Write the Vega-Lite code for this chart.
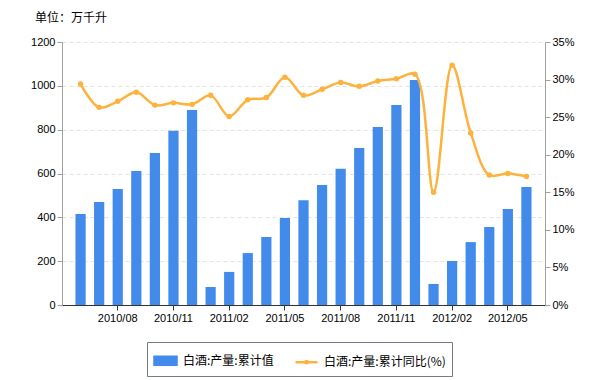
{
  "$schema": "https://vega.github.io/schema/vega-lite/v6.json",
  "width": 483,
  "height": 263,
  "autosize": {"type": "none"},
  "padding": {"left": 62, "top": 42, "right": 55, "bottom": 75},
  "background": "white",
  "title": {
    "text": "单位：万千升",
    "anchor": "start",
    "frame": "group",
    "dx": -27,
    "offset": 11,
    "font": "Noto Sans CJK SC",
    "fontSize": 12,
    "fontWeight": "normal",
    "color": "#000000"
  },
  "config": {
    "view": {"stroke": null},
    "axis": {"labelFont": "Liberation Sans", "labelFontSize": 11, "labelColor": "#000000", "titleFont": "Liberation Sans"}
  },
  "data": {
    "values": [
      {"month": "2010/06", "value": 415, "yoy": 29.4},
      {"month": "2010/07", "value": 470, "yoy": 26.3},
      {"month": "2010/08", "value": 529, "yoy": 27.1},
      {"month": "2010/09", "value": 611, "yoy": 28.3},
      {"month": "2010/10", "value": 694, "yoy": 26.6},
      {"month": "2010/11", "value": 795, "yoy": 26.9},
      {"month": "2010/12", "value": 890, "yoy": 26.7},
      {"month": "2011/01", "value": 82, "yoy": 27.9},
      {"month": "2011/02", "value": 151, "yoy": 25.1},
      {"month": "2011/03", "value": 237, "yoy": 27.3},
      {"month": "2011/04", "value": 310, "yoy": 27.6},
      {"month": "2011/05", "value": 397, "yoy": 30.3},
      {"month": "2011/06", "value": 478, "yoy": 27.9},
      {"month": "2011/07", "value": 548, "yoy": 28.7},
      {"month": "2011/08", "value": 622, "yoy": 29.6},
      {"month": "2011/09", "value": 716, "yoy": 29.1},
      {"month": "2011/10", "value": 812, "yoy": 29.8},
      {"month": "2011/11", "value": 912, "yoy": 30.1},
      {"month": "2011/12", "value": 1027, "yoy": 30.7},
      {"month": "2012/01", "value": 96, "yoy": 15.0},
      {"month": "2012/02", "value": 201, "yoy": 31.9},
      {"month": "2012/03", "value": 287, "yoy": 22.9},
      {"month": "2012/04", "value": 356, "yoy": 17.3},
      {"month": "2012/05", "value": 438, "yoy": 17.5},
      {"month": "2012/06", "value": 538, "yoy": 17.1}
    ]
  },
  "encoding": {
    "x": {
      "field": "month",
      "type": "ordinal",
      "sort": null,
      "scale": {"paddingInner": 0.45, "paddingOuter": 0.725},
      "axis": {
        "title": null,
        "values": ["2010/08", "2010/11", "2011/02", "2011/05", "2011/08", "2011/11", "2012/02", "2012/05"],
        "labelAngle": 0,
        "domainColor": "#333333",
        "tickColor": "#333333",
        "tickSize": 5,
        "labelPadding": 2,
        "grid": false
      }
    }
  },
  "layer": [
    {
      "mark": {"type": "bar", "color": "#428BEB"},
      "encoding": {
        "y": {
          "field": "value",
          "type": "quantitative",
          "scale": {"domain": [0, 1200], "nice": false},
          "axis": {
            "title": null,
            "orient": "left",
            "format": "d",
            "values": [0, 200, 400, 600, 800, 1000, 1200],
            "domainColor": "#a0a0a0",
            "tickColor": "#a0a0a0",
            "tickSize": 5,
            "labelPadding": 2,
            "grid": true,
            "gridColor": "#e3e3e3",
            "gridDash": [4, 3]
          }
        },
        "color": {
          "datum": "白酒:产量:累计值",
          "scale": {
            "domain": ["白酒:产量:累计值", "白酒:产量:累计同比(%)"],
            "range": ["#428BEB", "#FDB23E"]
          },
          "legend": {
            "title": null,
            "orient": "none",
            "legendX": 85,
            "legendY": 300,
            "direction": "horizontal",
            "strokeColor": "#737d89",
            "padding": 6,
            "columnPadding": 16,
            "labelFont": "Noto Sans CJK SC",
            "labelFontSize": 12,
            "labelColor": "#000000",
            "symbolSize": 484,
            "labelOffset": 5,
            "encode": {
              "symbols": {
                "update": {
                  "shape": {"signal": "datum.value === '白酒:产量:累计值' ? 'M-1,-0.36L1,-0.36L1,0.36L-1,0.36Z' : 'M-1,0L1,0M0.1,0A0.1,0.1,0,1,1,-0.1,0A0.1,0.1,0,1,1,0.1,0'"},
                  "fill": {"signal": "datum.value === '白酒:产量:累计值' ? '#428BEB' : '#FDB23E'"},
                  "stroke": {"signal": "datum.value === '白酒:产量:累计值' ? null : '#FDB23E'"},
                  "strokeWidth": {"value": 2.5},
                  "opacity": {"value": 1},
                  "fillOpacity": {"value": 1}
                }
              }
            }
          }
        }
      }
    },
    {
      "mark": {
        "type": "line",
        "interpolate": "catmull-rom",
        "strokeWidth": 2.5,
        "color": "#FDB23E",
        "point": {"filled": true, "size": 30, "color": "#FDB23E"}
      },
      "encoding": {
        "y": {
          "field": "yoy",
          "type": "quantitative",
          "scale": {"domain": [0, 35], "nice": false},
          "axis": {
            "title": null,
            "orient": "right",
            "values": [0, 5, 10, 15, 20, 25, 30, 35],
            "labelExpr": "datum.value + '%'",
            "domainColor": "#a0a0a0",
            "tickColor": "#a0a0a0",
            "tickSize": 5,
            "labelPadding": 2,
            "grid": false
          }
        },
        "color": {"datum": "白酒:产量:累计同比(%)"}
      }
    }
  ],
  "resolve": {"scale": {"y": "independent"}}
}
